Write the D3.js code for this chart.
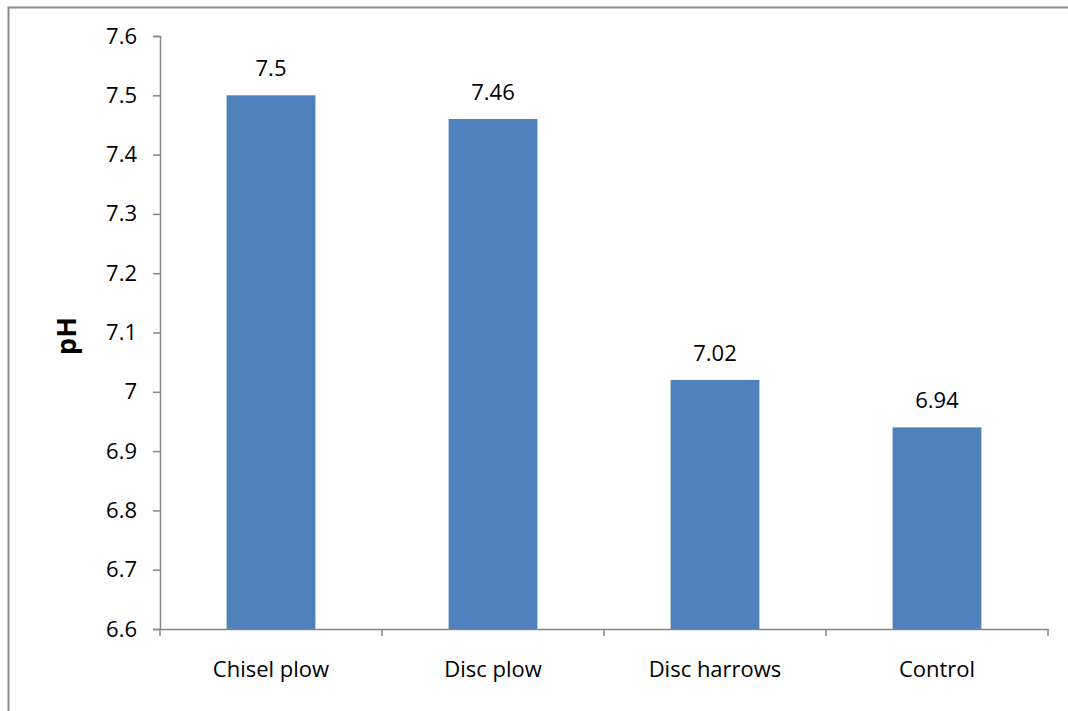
<!DOCTYPE html>
<html>
<head>
<meta charset="utf-8">
<script src="https://cdn.jsdelivr.net/npm/d3@7"></script>
<style>
  html, body { margin: 0; padding: 0; background: #fff; }
  svg { display: block; font-family: "Open Sans", "Noto Sans", sans-serif; }
</style>
</head>
<body>
<svg id="chart" width="1068" height="711"></svg>
<script>
// Soil pH by tillage treatment
const categories = ["Chisel plow", "Disc plow", "Disc harrows", "Control"];
const phValues = [7.5, 7.46, 7.02, 6.94];
const yTicks = [6.6, 6.7, 6.8, 6.9, 7, 7.1, 7.2, 7.3, 7.4, 7.5, 7.6];

const svg = d3.select("#chart");
const plotLeft = 160, plotRight = 1048, plotTop = 36, plotBottom = 629;
const fontSize = 22;

// outer chart frame (only left and top edges fall inside the page)
svg.append("rect")
  .attr("x", 8.5).attr("y", 7.5)
  .attr("width", 1100).attr("height", 750)
  .attr("fill", "none").attr("stroke", "#8c8c8c").attr("stroke-width", 2);

const x = d3.scaleBand().domain(categories).range([plotLeft, plotRight]).padding(0);
const y = d3.scaleLinear().domain([6.6, 7.6]).range([plotBottom, plotTop]);

const barW = x.bandwidth() * 0.4;

// bars
svg.append("g").selectAll("rect")
  .data(categories)
  .join("rect")
  .attr("x", (d) => x(d) + (x.bandwidth() - barW) / 2)
  .attr("y", (d, i) => y(phValues[i]))
  .attr("width", barW)
  .attr("height", (d, i) => y(6.6) - y(phValues[i]))
  .attr("fill", "#4f81bd");

// value labels
svg.append("g").selectAll("text")
  .data(categories)
  .join("text")
  .attr("x", (d) => x(d) + x.bandwidth() / 2)
  .attr("y", (d, i) => y(phValues[i]) - 19)
  .attr("text-anchor", "middle")
  .attr("font-size", fontSize)
  .attr("fill", "#000")
  .text((d, i) => String(phValues[i]));

// y axis
const yAxis = d3.axisLeft(y).tickValues(yTicks).tickSize(7).tickPadding(16)
  .tickFormat((d) => String(+d.toFixed(1)));
const gy = svg.append("g").attr("transform", `translate(${plotLeft},0)`).call(yAxis);
gy.select(".domain").attr("stroke", "#868686").attr("stroke-width", 1.5);
gy.selectAll(".tick line").attr("stroke", "#868686").attr("stroke-width", 1.5);
gy.selectAll(".tick text").attr("font-size", fontSize).attr("fill", "#000")
  .attr("font-family", "\"Open Sans\", \"Noto Sans\", sans-serif");

// x axis
const xAxis = d3.axisBottom(x).tickSize(0).tickPadding(0).tickFormat(() => "");
const gx = svg.append("g").attr("transform", `translate(0,${plotBottom})`).call(xAxis);
gx.select(".domain").attr("stroke", "#868686").attr("stroke-width", 1.5);
gx.selectAll(".tick").remove();
// category boundary tick marks
const bounds = categories.map((d) => x(d)).concat([plotRight]);
gx.selectAll("line.bound")
  .data(bounds)
  .join("line")
  .attr("class", "bound")
  .attr("x1", (d) => d).attr("x2", (d) => d)
  .attr("y1", 0).attr("y2", 7)
  .attr("stroke", "#868686").attr("stroke-width", 1.5);

// category labels
svg.append("g").selectAll("text")
  .data(categories)
  .join("text")
  .attr("x", (d) => x(d) + x.bandwidth() / 2)
  .attr("y", 677)
  .attr("text-anchor", "middle")
  .attr("font-size", fontSize)
  .attr("fill", "#000")
  .text((d) => d);

// y axis title
svg.append("text")
  .attr("transform", "translate(76,336) rotate(-90)")
  .attr("text-anchor", "middle")
  .attr("font-size", 27)
  .attr("font-weight", "bold")
  .attr("fill", "#000")
  .text("pH");
</script>
</body>
</html>
